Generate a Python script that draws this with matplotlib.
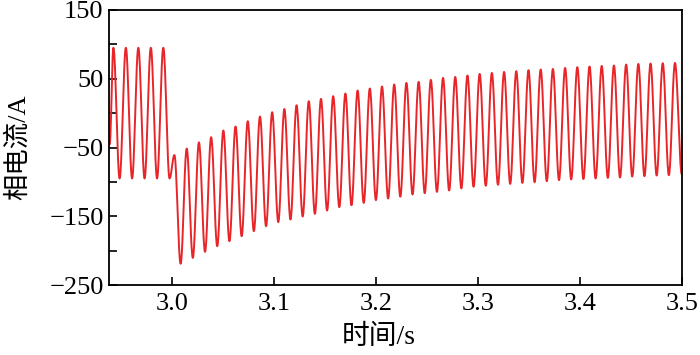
import numpy as np
import matplotlib.pyplot as plt

plt.rcParams['font.family'] = ['Liberation Serif', 'Noto Sans CJK SC']
plt.rcParams['axes.unicode_minus'] = True

# extrema (A), in the order they occur
pre_peaks = [95, 95, 95, 95, 95]
pre_troughs = [-95, -95, -95, -95, -95]
pre_first_peak = 2.9421   # s
pre_period = 0.01225      # s

bump = (3.0020, -61)      # small hump right at the fault

post_troughs = [-219, -210.5, -201.7, -193.5, -186.2, -178.9, -171.7, -164.4,
                -158.5, -154.7, -150.3, -146.5, -141.6, -136.8, -133.9, -130.5,
                -126.5, -124.1, -121.5, -118.3, -116.4, -114.5, -112.5, -109.5,
                -107, -105.5, -104.2, -102.9, -101.5, -100.4, -99, -97.5,
                -96.5, -95.8, -95, -94.2, -93.6, -92.2, -91.7, -90.7, -90.3]
post_peaks = [-51.5, -42.5, -35, -25.3, -19.5, -11.8, -5, 1.3, 5.9, 11.4,
              17.3, 20.7, 24.6, 28.5, 32.8, 35.8, 38.7, 41.6, 43.9, 45.4,
              48.3, 51.2, 52.6, 54.7, 57, 58.4, 59.9, 60.9, 62.4, 63.4,
              64.2, 65.7, 66.7, 67.7, 68.6, 69.2, 70.6, 71.5, 72.1, 72.5, 73]
post_first_trough = 3.0081
post_period = 0.01198
end_point = (3.5, -89)

start_point = (2.9385, -45)


def build_extrema():
    t = [start_point[0]]
    v = [start_point[1]]
    for k in range(len(pre_peaks)):
        tp = pre_first_peak + k * pre_period
        t += [tp, tp + pre_period / 2]
        v += [pre_peaks[k], pre_troughs[k]]
    t.append(bump[0])
    v.append(bump[1])
    for k in range(len(post_troughs)):
        tt = post_first_trough + k * post_period
        t += [tt, tt + post_period / 2]
        v += [post_troughs[k], post_peaks[k]]
    t.append(end_point[0])
    v.append(end_point[1])
    return np.array(t), np.array(v)


def waveform(t, v, n=20):
    # join successive extrema with half cosine swings
    xs, ys = [], []
    s = np.linspace(0, 1, n, endpoint=False)
    for i in range(len(t) - 1):
        xs.append(t[i] + (t[i + 1] - t[i]) * s)
        ys.append((v[i] + v[i + 1]) / 2 + (v[i] - v[i + 1]) / 2 * np.cos(np.pi * s))
    xs.append([t[-1]])
    ys.append([v[-1]])
    return np.concatenate(xs), np.concatenate(ys)


def main():
    t, v = build_extrema()
    x, y = waveform(t, v)

    fig = plt.figure(figsize=(7, 3.55), dpi=100)
    ax = fig.add_axes([0.156, 0.197, 0.818, 0.775])
    ax.plot(x, y, color='#e8262a', lw=1.4)

    ax.set_xlim(2.938, 3.5)
    ax.set_ylim(-250, 150)
    ax.set_xticks([3.0, 3.1, 3.2, 3.3, 3.4, 3.5])
    ax.set_xticklabels(['3.0', '3.1', '3.2', '3.3', '3.4', '3.5'])
    ax.set_yticks([150, 50, -50, -150, -250])
    ax.set_yticklabels(['150', '50', '\u221250', '\u2212150', '\u2212250'])
    ax.set_yticks([100, 0, -100, -200], minor=True)
    ax.tick_params(which='both', direction='in', length=6, width=1.2,
                   labelsize=19, top=False, right=False)
    ax.tick_params(axis='x', pad=6)
    ax.tick_params(axis='y', pad=4)
    for sp in ax.spines.values():
        sp.set_linewidth(1.3)

    ax.set_xlabel('时间/s', fontsize=20)
    ax.set_ylabel('相电流/A', fontsize=19)
    ax.xaxis.set_label_coords(0.47, -0.145)
    ax.yaxis.set_label_coords(-0.138, 0.5)

    fig.savefig('out.png', dpi=100)


if __name__ == "__main__":
    main()
